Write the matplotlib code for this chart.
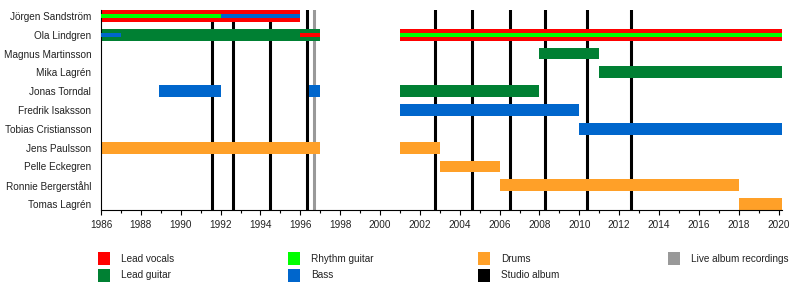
import numpy as np
import matplotlib.pyplot as plt
from matplotlib.patches import Rectangle

plt.rcParams['font.family'] = ['Liberation Sans', 'DejaVu Sans']

members = ["Jörgen Sandström", "Ola Lindgren", "Magnus Martinsson", "Mika Lagrén",
           "Jonas Torndal", "Fredrik Isaksson", "Tobias Cristiansson", "Jens Paulsson",
           "Pelle Eckegren", "Ronnie Bergerståhl", "Tomas Lagrén"]

colors = {"Lead vocals": "#ff0000", "Lead guitar": "#008033", "Rhythm guitar": "#00ff00",
          "Bass": "#0066cc", "Drums": "#ffa028", "Studio album": "#000000",
          "Live album recordings": "#999999"}

END = 2020.17
# (member, role, start, end, layer)  layer: "full" bar or "mid" stripe
spans = [
    ("Jörgen Sandström", "Lead vocals", 1986, 1996, "full"),
    ("Jörgen Sandström", "Rhythm guitar", 1986, 1992, "mid"),
    ("Jörgen Sandström", "Bass", 1992, 1996, "mid"),
    ("Ola Lindgren", "Lead guitar", 1986, 1997, "full"),
    ("Ola Lindgren", "Bass", 1986, 1987, "mid"),
    ("Ola Lindgren", "Lead vocals", 1996, 1997, "mid"),
    ("Ola Lindgren", "Lead vocals", 2001, END, "full"),
    ("Ola Lindgren", "Rhythm guitar", 2001, END, "mid"),
    ("Magnus Martinsson", "Lead guitar", 2008, 2011, "full"),
    ("Mika Lagrén", "Lead guitar", 2011, END, "full"),
    ("Jonas Torndal", "Bass", 1988.9, 1992, "full"),
    ("Jonas Torndal", "Bass", 1996.45, 1997, "full"),
    ("Jonas Torndal", "Lead guitar", 2001, 2008, "full"),
    ("Fredrik Isaksson", "Bass", 2001, 2010, "full"),
    ("Tobias Cristiansson", "Bass", 2010, END, "full"),
    ("Jens Paulsson", "Drums", 1986, 1997, "full"),
    ("Jens Paulsson", "Drums", 2001, 2003, "full"),
    ("Pelle Eckegren", "Drums", 2003, 2006, "full"),
    ("Ronnie Bergerståhl", "Drums", 2006, 2018, "full"),
    ("Tomas Lagrén", "Drums", 2018, END, "full"),
]

studio_albums = [1991.58, 1992.6, 1994.46, 1996.32, 2002.75, 2004.6,
                 2006.52, 2008.28, 2010.39, 2012.6]
live_albums = [1996.67]

W, H = 800, 290
fig = plt.figure(figsize=(8, 2.9), dpi=100)
ax = fig.add_axes([101/W, 80/H, 681/W, 200/H])

for x in studio_albums:
    ax.axvline(x, color=colors["Studio album"], lw=2.2, zorder=1)
for x in live_albums:
    ax.axvline(x, color=colors["Live album recordings"], lw=2.2, zorder=1)

h = 0.62
for name, role, s, e, layer in spans:
    y = members.index(name)
    hh = h if layer == "full" else h / 3
    ax.barh(y, e - s, left=s, height=hh, color=colors[role], lw=0,
            zorder=2 if layer == "full" else 3)

ax.set_yticks(range(len(members)))
ax.set_yticklabels(members, fontsize=7.2, color="#222222")
ax.tick_params(axis="y", length=0, pad=7)
ax.set_ylim(len(members) - 1 + h / 2, -h / 2)
ax.set_xlim(1986, END)
ax.set_xticks(np.arange(1986, 2021, 2))
ax.set_xticks(np.arange(1987, 2020, 2), minor=True)
ax.tick_params(axis="x", labelsize=7.2, length=3.5, width=0.8, labelcolor="#222222")
ax.tick_params(axis="x", which="minor", length=2, width=0.8)
for sp in ["top", "right"]:
    ax.spines[sp].set_visible(False)
ax.spines["left"].set_linewidth(0.8)
ax.spines["bottom"].set_linewidth(0.8)

# legend: fixed-width columns, two rows, filled column by column
for i, (label, c) in enumerate(colors.items()):
    col, row = divmod(i, 2)
    x0 = 98 + col * 190
    ytop = 252 + row * 17
    fig.patches.append(Rectangle((x0/W, 1 - (ytop + 13)/H), 12/W, 13/H,
                                 transform=fig.transFigure, color=c, lw=0))
    fig.text((x0 + 23)/W, 1 - (ytop + 6.5)/H, label, fontsize=7.2,
             va="center", ha="left", color="#222222")

fig.savefig("out.png", dpi=100)
